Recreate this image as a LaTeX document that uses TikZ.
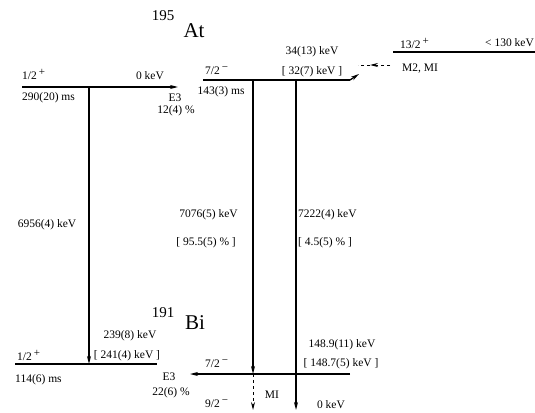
\documentclass[tikz,border=0pt]{standalone}
\usepackage{fontspec}
\setmainfont{Liberation Serif}
\usetikzlibrary{arrows.meta}
\newcommand{\sps}[1]{\,\raisebox{0.75ex}{\fontsize{11}{11}\selectfont #1}}
\begin{document}
\begin{tikzpicture}[x=1pt,y=-1pt,
  lvl/.style={line width=1.3pt},
  trthick/.style={line width=2.3pt},
  trthin/.style={line width=1.3pt},
  tip/.style={-{Stealth[length=8pt,width=4pt]}},
  lab/.style={font=\fontsize{11.5}{12}\selectfont, inner sep=0pt},
  big/.style={font=\fontsize{21}{22}\selectfont, inner sep=0pt},
  mass/.style={font=\fontsize{15}{16}\selectfont, inner sep=0pt},
]
\useasboundingbox[fill=white] (0,0) rectangle (535,412);
% coordinates
\coordinate (a1L) at (22,87); \coordinate (a1R) at (178,87);
\coordinate (a7L) at (203,80); \coordinate (a7R) at (350,80);
\coordinate (a7T) at (359,74);
\coordinate (a13L) at (393,52); \coordinate (a13R) at (535,52);
\coordinate (dR) at (390,65); \coordinate (dM) at (370,65); \coordinate (dL) at (358,65);
\coordinate (b1L) at (15,364); \coordinate (b1R) at (157,364);
\coordinate (b7L) at (190,374); \coordinate (b7R) at (350,374);
\coordinate (v1t) at (89,87); \coordinate (v1b) at (89,364);
\coordinate (v2t) at (253,80); \coordinate (v2b) at (253,374);
\coordinate (v2e) at (253,410);
\coordinate (v3t) at (296,80); \coordinate (v3b) at (296,410);
% levels
\draw[lvl,tip] (a1L) -- (a1R);
\draw[lvl] (a7L) -- (a7R);
\draw[lvl,tip] (a7R) -- (a7T);
\draw[lvl] (a13L) -- (a13R);
\draw[line width=0.9pt,dashed,tip] (dR) -- (dM);
\draw[line width=0.9pt,dashed] (dM) -- (dL);
\draw[lvl] (b1L) -- (b1R);
\draw[lvl,tip] (b7R) -- (b7L);
% transitions
\draw[trthick,tip] (v1t) -- (v1b);
\draw[trthick,tip] (v2t) -- (v2b);
\draw[line width=1pt,dashed,tip] (v2b) -- (v2e);
\draw[trthin,tip] (v3t) -- (v3b);
% titles
\node[mass] (m195) at (163,16) {195};
\node[big] (at) at (194,31) {At};
\node[mass] (m191) at (163,313) {191};
\node[big] (bi) at (195,323) {Bi};
% 195At labels
\node[lab,anchor=west] (s1) at (22,74) {1/2\sps{+}};
\node[lab,anchor=west] (t1) at (22,98) {290(20) ms};
\node[lab] (e0) at (150,76) {0 keV};
\node[lab] (e3a) at (175,98) {E3};
\node[lab] (p3a) at (176,111) {12(4) \%};
\node[lab,anchor=west] (s7) at (205,71) {7/2\sps{−}};
\node[lab] (t7) at (221,92) {143(3) ms};
\node[lab] (e34) at (312,52) {34(13) keV};
\node[lab] (e32) at (312,72) {[ 32(7) keV ]};
\node[lab,anchor=west] (s13) at (400,43) {13/2\sps{+}};
\node[lab,anchor=east] (e130) at (534,43) {< 130 keV};
\node[lab,anchor=west] (m2) at (402,69) {M2, MI};
% alpha labels
\node[lab] (al1) at (47,225) {6956(4) keV};
\node[lab,anchor=east] (al2) at (238,215) {7076(5) keV};
\node[lab,anchor=east] (br2) at (236,243) {[ 95.5(5) \% ]};
\node[lab,anchor=west] (al3) at (298,215) {7222(4) keV};
\node[lab,anchor=west] (br3) at (298,243) {[ 4.5(5) \% ]};
% 191Bi labels
\node[lab] (e239) at (130,336) {239(8) keV};
\node[lab] (e241) at (127,356) {[ 241(4) keV ]};
\node[lab,anchor=west] (s1b) at (17,355) {1/2\sps{+}};
\node[lab,anchor=west] (t1b) at (15,380) {114(6) ms};
\node[lab] (e3b) at (169,377) {E3};
\node[lab] (p3b) at (171,393) {22(6) \%};
\node[lab,anchor=west] (s7b) at (205,364) {7/2\sps{−}};
\node[lab,anchor=west] (s9b) at (205,404) {9/2\sps{−}};
\node[lab] (m1) at (272,395) {MI};
\node[lab] (e149) at (342,345) {148.9(11) keV};
\node[lab] (e1487) at (341,364) {[ 148.7(5) keV ]};
\node[lab] (e0b) at (331,405) {0 keV};
\end{tikzpicture}
\end{document}
